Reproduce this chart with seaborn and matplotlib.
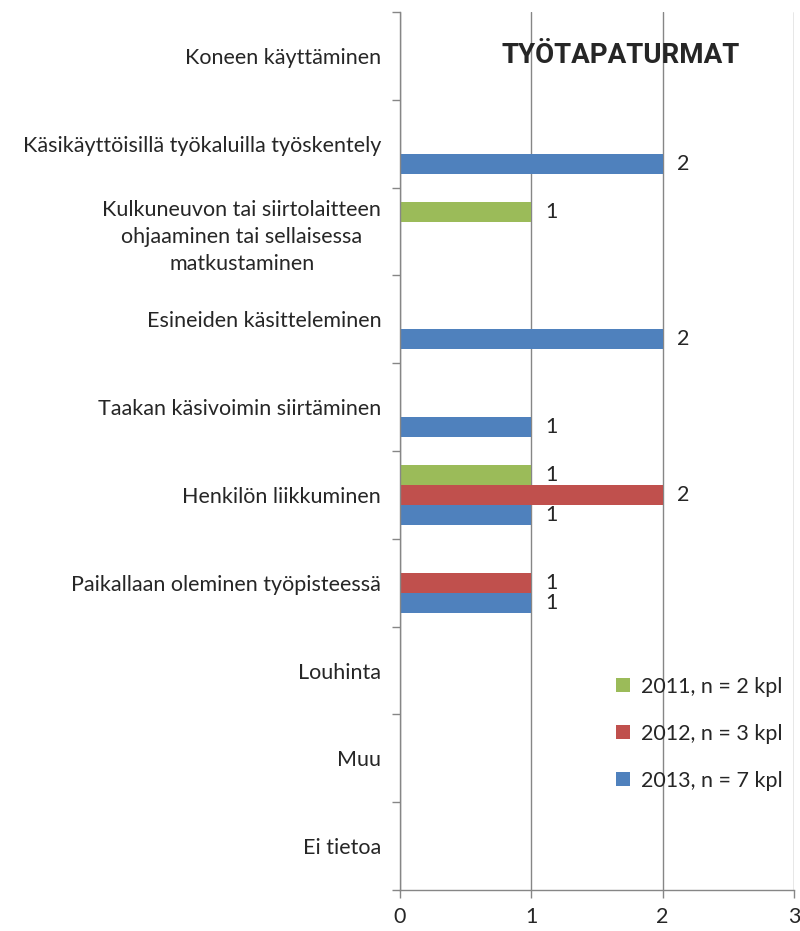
import matplotlib
matplotlib.use("Agg")
import matplotlib.pyplot as plt
import numpy as np
import pandas as pd
import seaborn as sns

categories = [
    "Koneen käyttäminen",
    "Käsikäyttöisillä työkaluilla työskentely",
    "Kulkuneuvon tai siirtolaitteen\nohjaaminen tai sellaisessa\nmatkustaminen",
    "Esineiden käsitteleminen",
    "Taakan käsivoimin siirtäminen",
    "Henkilön liikkuminen",
    "Paikallaan oleminen työpisteessä",
    "Louhinta",
    "Muu",
    "Ei tietoa",
]
series = ["2011, n = 2 kpl", "2012, n = 3 kpl", "2013, n = 7 kpl"]
values_2011 = [0, 0, 1, 0, 0, 1, 0, 0, 0, 0]
values_2012 = [0, 0, 0, 0, 0, 2, 1, 0, 0, 0]
values_2013 = [0, 2, 0, 2, 1, 1, 1, 0, 0, 0]
colors = ["#9BBB59", "#C0504D", "#4F81BD"]
x_ticks = [0, 1, 2, 3]

df = pd.DataFrame({
    "category": categories * 3,
    "series": [series[0]] * 10 + [series[1]] * 10 + [series[2]] * 10,
    "value": values_2011 + values_2012 + values_2013,
})

sns.set_style("white")
plt.rcParams["font.family"] = ["Lato", "DejaVu Sans"]
fs = 15.5

fig = plt.figure(figsize=(8, 9.31), dpi=100)
ax = fig.add_axes([0.5, 0.044, 0.4925, 0.943])

sns.barplot(data=df, y="category", x="value", hue="series", order=categories,
            hue_order=series, palette=colors, orient="h", width=0.68,
            saturation=1, errorbar=None, ax=ax, linewidth=0)

grid_c = "#868686"
ax.set_xlim(0, 3)
ax.set_xticks(x_ticks)
ax.set_xticklabels([str(t) for t in x_ticks], fontsize=fs)
ax.grid(axis="x", color=grid_c, linewidth=1)
ax.set_axisbelow(True)
ax.set_xlabel("")
ax.set_ylabel("")

for s in ["top", "right"]:
    ax.spines[s].set_visible(False)
for s in ["left", "bottom"]:
    ax.spines[s].set_color(grid_c)
    ax.spines[s].set_linewidth(1)

ax.tick_params(axis="y", which="major", left=False, pad=10, labelsize=fs)
ax.set_yticks(np.arange(-0.5, len(categories), 1), minor=True)
ax.tick_params(axis="y", which="minor", left=True, length=6, color=grid_c, width=1)
ax.tick_params(axis="x", bottom=True, length=6, color=grid_c, width=1, pad=6)
for lab in ax.get_yticklabels():
    lab.set_multialignment("center")
    lab.set_linespacing(1.45)

for cont in ax.containers:
    labels = [f"{int(b.get_width())}" if b.get_width() > 0 else "" for b in cont]
    ax.bar_label(cont, labels=labels, padding=10, fontsize=fs)

ax.legend(loc="upper left", bbox_to_anchor=(0.5, 0.265), frameon=False,
          fontsize=fs, handlelength=0.65, handleheight=0.65,
          labelspacing=1.25, handletextpad=0.5)

ax.text(0.56, 0.95, "TYÖTAPATURMAT", transform=ax.transAxes, ha="center",
        va="center", fontsize=20, fontweight="bold", family=["Roboto", "DejaVu Sans"])

fig.savefig("out.png", dpi=100)
